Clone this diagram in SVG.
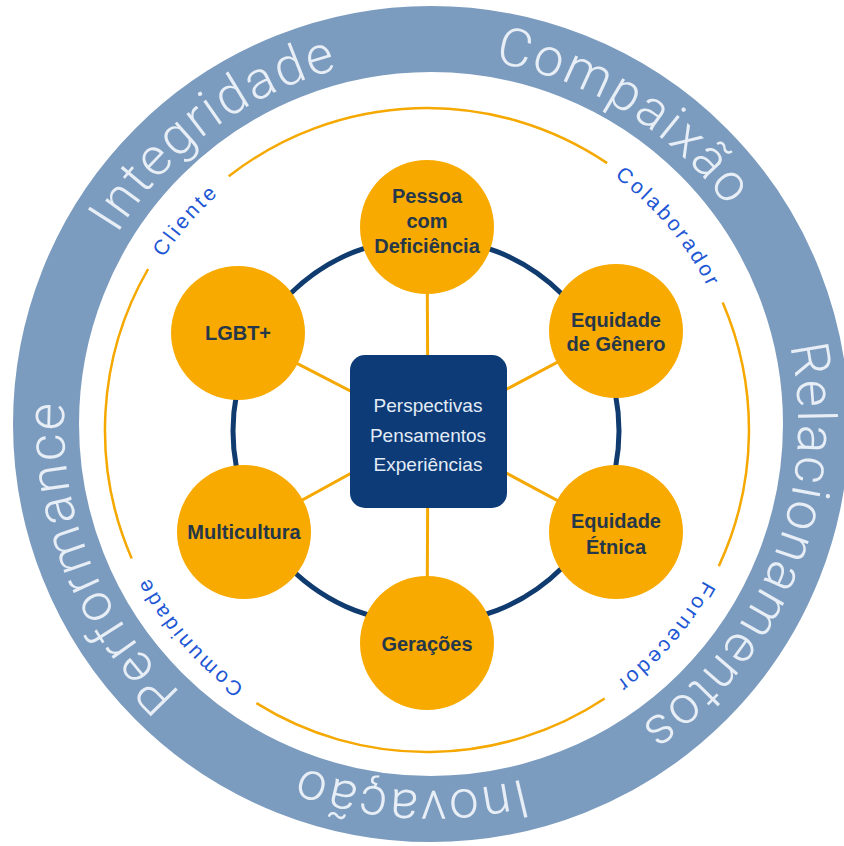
<svg xmlns="http://www.w3.org/2000/svg" width="844" height="846" viewBox="0 0 844 846">
  <style>
    .ring { fill: none; stroke: #7c9cbf; stroke-width: 66; }
    .ringtxt { font-family: Roboto, "Open Sans", "Liberation Sans", sans-serif; font-weight: 300; font-size: 53px; fill: #e8eef6; letter-spacing: 2px; }
    .orbit { fill: none; stroke: #f5a800; stroke-width: 2.5; }
    .lbl { font-family: "Liberation Sans", Arial, sans-serif; font-size: 21px; fill: #2157d4; letter-spacing: 3px; }
    .hex { fill: none; stroke: #0f3b6f; stroke-width: 5; }
    .spoke { stroke: #f5a800; stroke-width: 3; }
    .node { fill: #f8aa00; }
    .ntxt { font-family: "Liberation Sans", Arial, sans-serif; font-weight: bold; font-size: 20px; fill: #253749; text-anchor: middle; }
    .ctxt { font-family: "Liberation Sans", Arial, sans-serif; font-size: 19px; fill: #e3ecf6; text-anchor: middle; }
  </style>
  <defs>
    <path id="pInteg" d="M118.8,616.9 A367,367 0 0 1 705.0,179.9"/>
    <path id="pComp" d="M137.9,203.1 A367,367 0 0 1 758.0,590.6"/>
    <path id="pRel" d="M595.3,95.8 A367,367 0 0 1 326.1,775.7"/>
    <path id="pInov" d="M794.3,475.7 A367,367 0 0 1 64.2,436.2"/>
    <path id="pPerf" d="M537.1,775.3 A367,367 0 0 1 265.5,96.4"/>
    <path id="pCli" d="M220.3,667.8 A315,315 0 0 1 633.7,192.3"/>
    <path id="pCol" d="M224.5,188.7 A315,315 0 0 1 629.5,671.3"/>
    <path id="pFor" d="M633.7,192.3 A315,315 0 0 1 220.3,667.8"/>
    <path id="pCom" d="M633.7,667.8 A315,315 0 0 1 220.3,192.3"/>
  </defs>
  <rect width="844" height="846" fill="#ffffff"/>

  <g id="outer-ring">
    <circle class="ring" cx="431" cy="424" r="385"/>
    <text class="ringtxt" text-anchor="middle"><textPath href="#pInteg" startOffset="50%">Integridade</textPath></text>
    <text class="ringtxt" text-anchor="middle"><textPath href="#pComp" startOffset="50%">Compaixão</textPath></text>
    <text class="ringtxt" text-anchor="middle"><textPath href="#pRel" startOffset="50%">Relacionamentos</textPath></text>
    <text class="ringtxt" text-anchor="middle"><textPath href="#pInov" startOffset="50%">Inovação</textPath></text>
    <text class="ringtxt" text-anchor="middle"><textPath href="#pPerf" startOffset="50%">Performance</textPath></text>
  </g>

  <g id="stakeholder-orbit">
    <path class="orbit" d="M228.7,176.3 A322,322 0 0 1 607.1,163.1"/>
    <path class="orbit" d="M722.7,302.6 A322,322 0 0 1 718.8,566.1"/>
    <path class="orbit" d="M604.7,698.5 A322,322 0 0 1 256.4,703.1"/>
    <path class="orbit" d="M131.7,558.4 A322,322 0 0 1 148.1,269.0"/>
    <text class="lbl" text-anchor="middle"><textPath href="#pCli" startOffset="50%">Cliente</textPath></text>
    <text class="lbl" text-anchor="middle"><textPath href="#pCol" startOffset="50%">Colaborador</textPath></text>
    <text class="lbl" text-anchor="middle"><textPath href="#pFor" startOffset="50%">Fornecedor</textPath></text>
    <text class="lbl" text-anchor="middle"><textPath href="#pCom" startOffset="50%">Comunidade</textPath></text>
  </g>

  <g id="connectors">
    <circle class="hex" cx="426" cy="431" r="193"/>
    <line class="spoke" x1="428" y1="431" x2="427" y2="228"/>
    <line class="spoke" x1="428" y1="431" x2="238" y2="333"/>
    <line class="spoke" x1="428" y1="431" x2="616" y2="331"/>
    <line class="spoke" x1="428" y1="431" x2="244" y2="532"/>
    <line class="spoke" x1="428" y1="431" x2="616" y2="532"/>
    <line class="spoke" x1="428" y1="431" x2="427" y2="643"/>
  </g>

  <g id="node-pessoa">
    <circle class="node" cx="427" cy="227" r="67"/>
    <text class="ntxt" x="427" y="203">Pessoa</text>
    <text class="ntxt" x="427" y="228">com</text>
    <text class="ntxt" x="427" y="253">Deficiência</text>
  </g>
  <g id="node-lgbt">
    <circle class="node" cx="238" cy="333" r="67"/>
    <text class="ntxt" x="238" y="340">LGBT+</text>
  </g>
  <g id="node-genero">
    <circle class="node" cx="616" cy="331" r="67"/>
    <text class="ntxt" x="616" y="327">Equidade</text>
    <text class="ntxt" x="616" y="351">de Gênero</text>
  </g>
  <g id="node-multicultura">
    <circle class="node" cx="244" cy="532" r="67"/>
    <text class="ntxt" x="244" y="539">Multicultura</text>
  </g>
  <g id="node-etnica">
    <circle class="node" cx="616" cy="532" r="67"/>
    <text class="ntxt" x="616" y="528">Equidade</text>
    <text class="ntxt" x="616" y="554">Étnica</text>
  </g>
  <g id="node-geracoes">
    <circle class="node" cx="427" cy="643" r="67"/>
    <text class="ntxt" x="427" y="651">Gerações</text>
  </g>
  <g id="node-centro">
    <rect x="350" y="355" width="157" height="153" rx="15" fill="#0c3b78"/>
    <text class="ctxt" x="428" y="412">Perspectivas</text>
    <text class="ctxt" x="428" y="441.5">Pensamentos</text>
    <text class="ctxt" x="428" y="470.5">Experiências</text>
  </g>
</svg>
